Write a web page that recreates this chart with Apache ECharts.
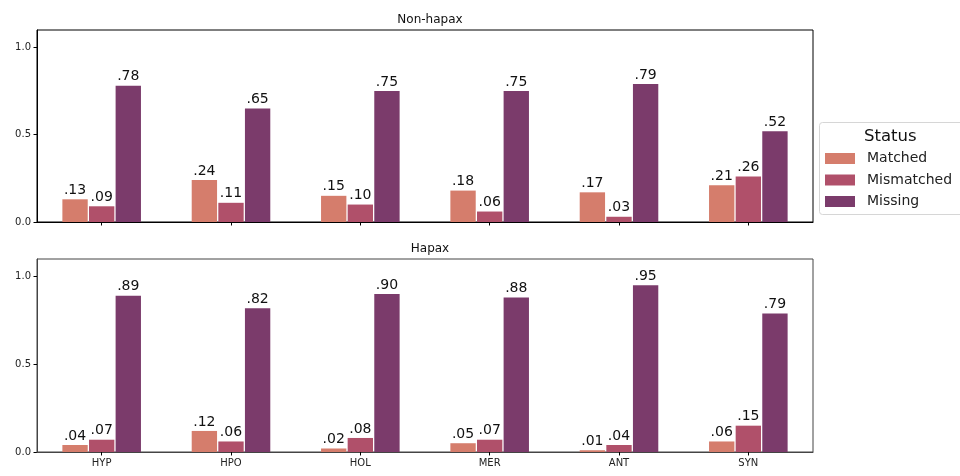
<!DOCTYPE html>
<html>
<head>
<meta charset="utf-8">
<script src="https://cdn.jsdelivr.net/npm/echarts@6/dist/echarts.min.js"></script>
<style>
  html, body { margin: 0; padding: 0; background: #fff; }
  #chart { width: 960px; height: 476px; }
</style>
</head>
<body>
<div id="chart"></div>
<script>
// Relation types on the x axis
const categories = ['HYP', 'HPO', 'HOL', 'MER', 'ANT', 'SYN'];
const statusNames = ['Matched', 'Mismatched', 'Missing'];
const panelTitles = ['Non-hapax', 'Hapax'];

// Proportions per status, non-hapax panel
const nonHapaxMatched    = [0.13, 0.24, 0.15, 0.18, 0.17, 0.21];
const nonHapaxMismatched = [0.09, 0.11, 0.10, 0.06, 0.03, 0.26];
const nonHapaxMissing    = [0.78, 0.65, 0.75, 0.75, 0.79, 0.52];

// Proportions per status, hapax panel
const hapaxMatched    = [0.04, 0.12, 0.02, 0.05, 0.01, 0.06];
const hapaxMismatched = [0.07, 0.06, 0.08, 0.07, 0.04, 0.15];
const hapaxMissing    = [0.89, 0.82, 0.90, 0.88, 0.95, 0.79];

const yTicks = [0, 0.5, 1.0];

const colors = ['#d57d6c', '#b0506a', '#7b3b6b'];
const font = 'DejaVu Sans';

const panels = [
  [nonHapaxMatched, nonHapaxMismatched, nonHapaxMissing],
  [hapaxMatched, hapaxMismatched, hapaxMissing]
];

const frameColors = ['#000', '#444'];

const grids = [
  { left: 37, right: 147, top: 30, height: 192 },
  { left: 37, right: 147, top: 259, height: 193 }
].map((g, i) => Object.assign(g, {
  show: true, borderColor: frameColors[i], borderWidth: 1, backgroundColor: 'transparent'
}));

// ".78" style: two decimals, no leading zero
const fmtShort = v => v.toFixed(2).replace(/^0/, '');

const xAxes = grids.map((g, i) => ({
  type: 'category',
  gridIndex: i,
  data: categories,
  boundaryGap: true,
  z: 5,
  axisLine: { show: true, lineStyle: { color: frameColors[i], width: 1 } },
  axisTick: { show: true, alignWithLabel: true, length: 3.5, lineStyle: { color: '#000' } },
  axisLabel: { show: i === 1, fontFamily: font, fontSize: 10, color: '#222', margin: 6 },
  splitLine: { show: false }
}));

const yAxes = grids.map((g, i) => ({
  type: 'value',
  gridIndex: i,
  min: 0,
  max: 1.1,
  interval: 0.5,
  axisLine: { show: true, lineStyle: { color: frameColors[i], width: 1 } },
  axisTick: { show: true, length: 3.5, lineStyle: { color: '#000' }, customValues: yTicks },
  axisLabel: { fontFamily: font, fontSize: 10, color: '#222', margin: 6,
               customValues: yTicks, formatter: v => v.toFixed(1) },
  splitLine: { show: false }
}));

const series = [];
panels.forEach((sets, p) => {
  sets.forEach((vals, s) => {
    series.push({
      name: statusNames[s],
      type: 'bar',
      xAxisIndex: p,
      yAxisIndex: p,
      data: vals,
      barWidth: '19.6%',
      barGap: '5%',
      z: 2,
      itemStyle: { color: colors[s] },
      label: {
        show: true,
        position: 'top',
        distance: 2,
        fontFamily: font,
        fontSize: 14,
        color: '#111',
        formatter: d => fmtShort(d.value)
      }
    });
  });
});

const chart = echarts.init(document.getElementById('chart'), null, { renderer: 'canvas' });
chart.setOption({
  animation: false,
  backgroundColor: '#fff',
  title: panelTitles.map((t, i) => ({
    text: t,
    left: 425,
    textAlign: 'center',
    top: i === 0 ? 9 : 238,
    textStyle: { fontFamily: font, fontSize: 12, fontWeight: 'normal', color: '#111' }
  })),
  grid: grids,
  xAxis: xAxes,
  yAxis: yAxes,
  legend: {
    data: statusNames,
    orient: 'vertical',
    left: 825,
    top: 151,
    padding: 0,
    itemWidth: 30,
    itemHeight: 11,
    itemGap: 6.5,
    icon: 'rect',
    textStyle: { fontFamily: font, fontSize: 14, lineHeight: 15, color: '#222', padding: [0, 0, 0, 7] },
    selectedMode: false
  },
  graphic: [
    {
      type: 'rect',
      left: 819,
      top: 122,
      shape: { width: 150, height: 92, r: 3 },
      style: { fill: '#fff', stroke: '#d6d6d6', lineWidth: 1 },
      z: -1
    },
    {
      type: 'text',
      left: 864,
      top: 128,
      style: { text: 'Status', fontFamily: font, fontSize: 16.5, fill: '#111' }
    }
  ],
  series: series
});
</script>
</body>
</html>
